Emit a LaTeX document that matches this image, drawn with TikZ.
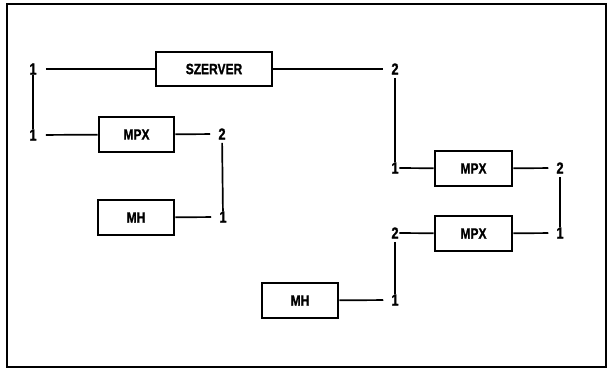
\documentclass[tikz,border=0pt]{standalone}
\usepackage{fontspec}
\newfontfamily\lblfont[FakeStretch=0.8, BoldFeatures={FakeBold=1.2}]{Liberation Sans}
\begin{document}
\begin{tikzpicture}[x=1pt,y=-1pt,
  unit/.style={draw, line width=2.6pt, minimum width=76pt, minimum height=35pt,
    inner sep=0pt, font=\lblfont\fontsize{15}{15}\selectfont\bfseries},
  port/.style={inner sep=0pt, font=\lblfont\fontsize{16}{16}\selectfont\bfseries},
  wire/.style={line width=1.7pt},
  gap/.style={shorten <=#1},
  gapend/.style={shorten >=#1}]
\useasboundingbox (0,0) rectangle (609,371);
\draw[line width=2.2pt] (7,4) rectangle (606,367);
% boxes
\node[unit, minimum width=116pt, minimum height=34pt] (sz) at (214,69) {SZERVER};
\node[unit, minimum width=75pt] (mpxa) at (136.5,134.5) {MPX};
\node[unit] (mha) at (136,217.5) {MH};
\node[unit] (mhb) at (300,300.5) {MH};
\node[unit, minimum width=77pt] (mpxb) at (473.5,168.5) {MPX};
\node[unit, minimum width=77pt] (mpxc) at (473.5,233.5) {MPX};
% port numbers
\node[port] (a1) at (33,69) {1};
\node[port] (a2) at (33,135) {1};
\node[port] (b2) at (222,134) {2};
\node[port] (b1) at (223,217) {1};
\node[port] (c2) at (395,69) {2};
\node[port] (c1) at (395,168) {1};
\node[port] (d2) at (560,168) {2};
\node[port] (d1) at (560,233) {1};
\node[port] (e2) at (395,233) {2};
\node[port] (e1) at (395,300) {1};
% connectors
\draw[wire, gap=9pt] (a1) -- (sz);
\draw[wire, gapend=8pt] (sz) -- (c2);
\draw[wire] (a1) -- (a2);
\draw[wire, gap=9pt] (a2) -- (mpxa);
\draw[wire, gapend=8pt] (mpxa) -- (b2);
\draw[wire, shorten <=3pt] (b2) -- (b1);
\draw[wire, gapend=8pt] (mha) -- (b1);
\draw[wire, shorten <=3pt] (c2) -- (c1);
\draw[wire, gap=0.5pt] (c1) -- (mpxb);
\draw[wire, gapend=8pt] (mpxb) -- (d2);
\draw[wire, shorten <=3pt] (d2) -- (d1);
\draw[wire, gap=0.5pt] (e2) -- (mpxc);
\draw[wire, gapend=8pt] (mpxc) -- (d1);
\draw[wire, shorten <=3pt] (e2) -- (e1);
\draw[wire, gapend=8pt] (mhb) -- (e1);
\end{tikzpicture}
\end{document}
